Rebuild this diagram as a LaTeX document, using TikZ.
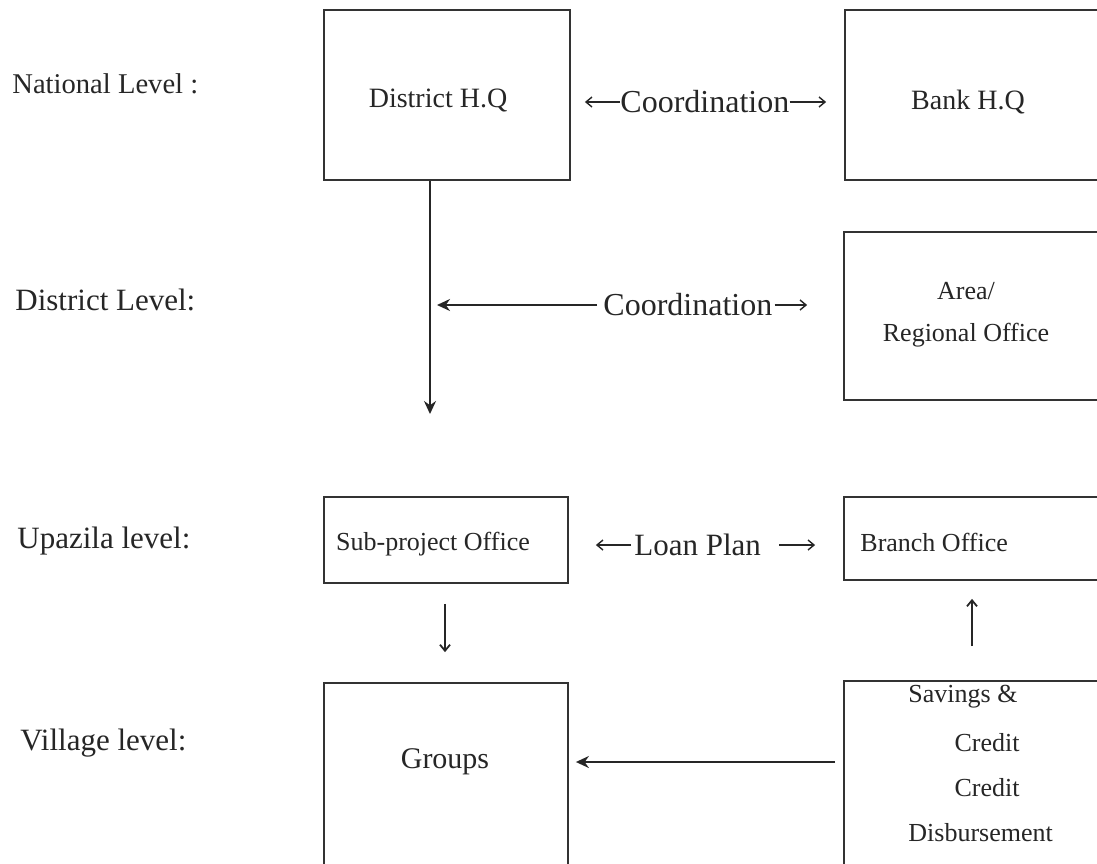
\documentclass[tikz,border=0pt]{standalone}
\usepackage{fontspec}
\setmainfont{Liberation Serif}
\usetikzlibrary{arrows.meta}
\begin{document}
\begin{tikzpicture}[x=0.5pt,y=-0.5pt,
  box/.style={draw=black!80, line width=0.9pt, rectangle, inner sep=0pt},
  lvl/.style={anchor=west, inner sep=0pt, font=\fontsize{15.5}{18}\selectfont, text=black!85},
  btxt/.style={inner sep=0pt, font=\fontsize{13}{15}\selectfont, text=black!85},
  ctxt/.style={anchor=west, inner sep=0pt, font=\fontsize{16}{19}\selectfont, text=black!85},
  thinarrow/.style={draw=black!85, line width=0.7pt, -{Straight Barb[length=3pt,width=5pt]}},
  fillarrow/.style={draw=black!85, line width=0.9pt, -{Stealth[length=6.5pt,width=6pt]}},
  plainline/.style={draw=black!85, line width=0.9pt}
]
\clip (0,0) rectangle (1097,863);
\fill[white] (0,0) rectangle (1097,863);

% level labels
\node[lvl, font=\fontsize{14.3}{17}\selectfont] (lnat) at (12,84) {National Level :};
\node[lvl] (ldis) at (15,300) {District Level:};
\node[lvl] (lupa) at (17,541) {Upazila level:};
\node[lvl] (lvil) at (20,743) {Village level:};

% boxes
\node[box, minimum width=123pt, minimum height=85pt] (dhq) at (447,95) {};
\node[box, minimum width=140pt, minimum height=85pt] (bhq) at (985,95) {};
\node[box, minimum width=140.5pt, minimum height=84pt] (area) at (984.5,316) {};
\node[box, minimum width=122pt, minimum height=43pt] (sub) at (446,540) {};
\node[box, minimum width=140.5pt, minimum height=41.5pt] (branch) at (984.5,538.5) {};
\node[box, minimum width=122pt, minimum height=110pt] (groups) at (446,793) {};
\node[box, minimum width=140.5pt, minimum height=111pt] (sav) at (984.5,792) {};

% box texts
\node[btxt, font=\fontsize{14}{16}\selectfont] (tdhq) at (438,100) {District H.Q};
\node[btxt, font=\fontsize{14}{16}\selectfont] (tbhq) at (968,102) {Bank H.Q};
\node[btxt] (tarea1) at (966,291) {Area/};
\node[btxt] (tarea2) at (966,335) {Regional Office};
\node[btxt] (tsub) at (433,544) {Sub-project Office};
\node[btxt, anchor=west] (tbranch) at (860,542) {Branch Office};
\node[btxt, font=\fontsize{15}{17}\selectfont] (tgroups) at (445,762) {Groups};
\node[btxt, anchor=west] (tsav1) at (908,697) {Savings \&};
\node[btxt] (tsav2) at (987,743) {Credit};
\node[btxt] (tsav3) at (987,788) {Credit};
\node[btxt, anchor=west] (tsav4) at (908,833) {Disbursement};

% connector labels
\node[ctxt] (c1) at (620,102) {Coordination};
\node[ctxt] (c2) at (603,305) {Coordination};
\node[ctxt, font=\fontsize{15.5}{18}\selectfont] (loan) at (634,545) {Loan Plan};

% helper coordinates
\coordinate (vtip) at (430,414);
\coordinate (gy) at (0,762);
\coordinate (dx) at (445,0);
\coordinate (ux) at (972,0);

% row 1
\draw[thinarrow, shorten >=7pt] (c1.west) -- (c1.west -| dhq.east);
\draw[thinarrow, shorten >=9pt] (c1.east) -- (c1.east -| bhq.west);
% vertical line from District H.Q
\draw[fillarrow] (dhq.south -| vtip) -- (vtip);
% row 2
\draw[fillarrow, line width=1.2pt, shorten <=3pt, shorten >=3.5pt] (c2.west) -- (c2.west -| vtip);
\draw[thinarrow, shorten <=1pt, shorten >=18pt] (c2.east) -- (c2.east -| area.west);
% row 3
\draw[thinarrow, shorten <=1.5pt, shorten >=13.5pt] (loan.west) -- (loan.west -| sub.east);
\draw[thinarrow, shorten <=9pt, shorten >=14pt] (loan.east) -- (loan.east -| branch.west);
\draw[thinarrow, line width=0.9pt, shorten <=10pt, shorten >=15pt] (sub.south -| dx) -- (groups.north -| dx);
\draw[thinarrow, line width=0.9pt, shorten <=17pt, shorten >=9pt] (sav.north -| ux) -- (branch.south -| ux);
% row 4
\draw[fillarrow, shorten <=4pt, shorten >=3.5pt] (sav.west |- gy) -- (groups.east |- gy);
\end{tikzpicture}
\end{document}
